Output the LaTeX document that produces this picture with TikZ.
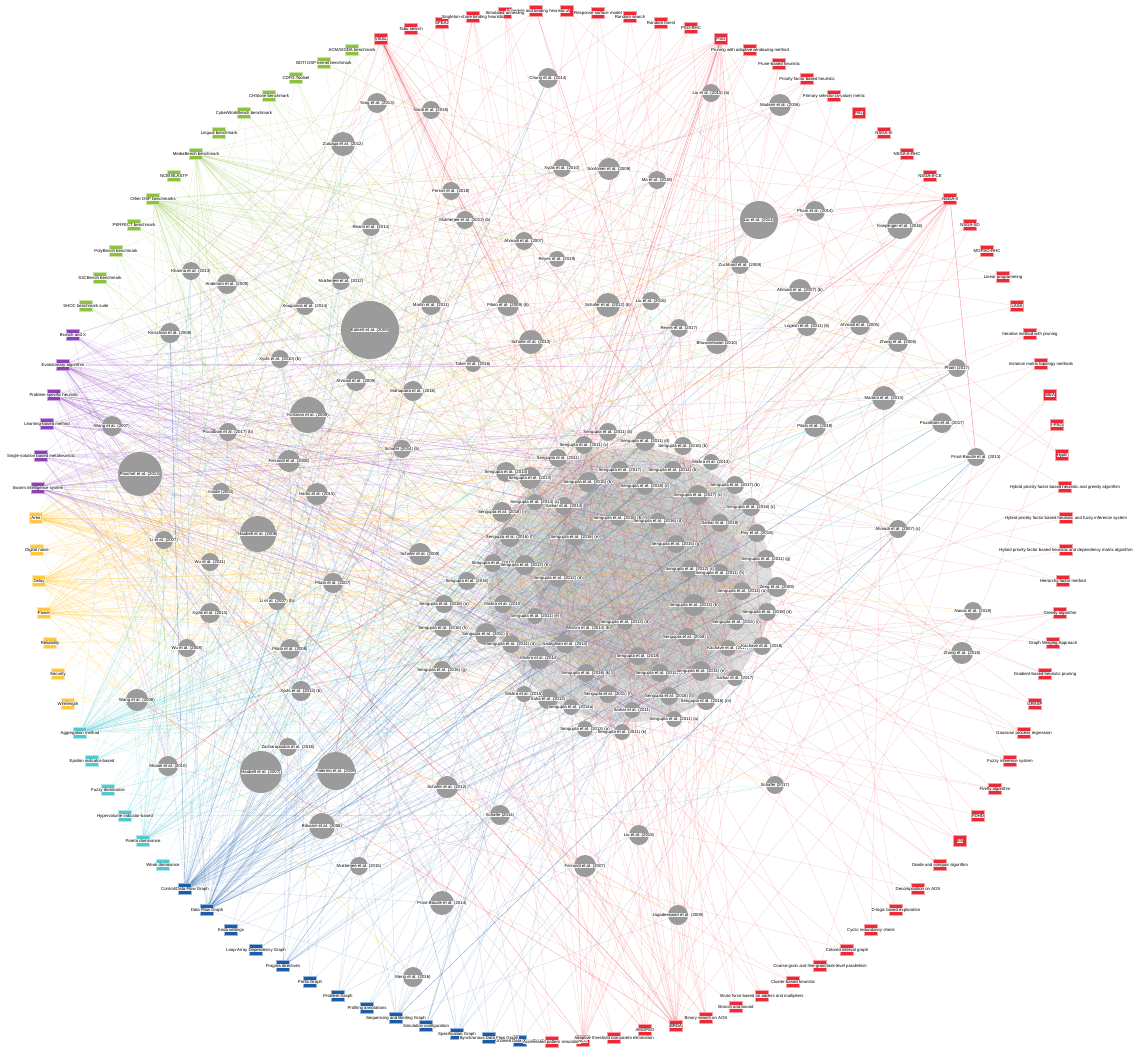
\documentclass[tikz,border=0pt]{standalone}
\usepackage{fontspec}
\usepackage{etoolbox}
\setmainfont{Liberation Sans}
\usetikzlibrary{backgrounds}
\definecolor{cg}{RGB}{141,193,64}
\definecolor{cp}{RGB}{140,64,185}
\definecolor{cy}{RGB}{255,200,62}
\definecolor{cc}{RGB}{82,200,208}
\definecolor{cb}{RGB}{26,92,168}
\definecolor{cr}{RGB}{238,40,52}
\definecolor{cn}{RGB}{155,155,155}
\tikzset{
 obox/.style={draw=#1!45, fill=#1, line width=0.7pt, minimum width=13pt, minimum height=11pt, inner sep=0pt},
 pnode/.style={circle, fill=cn, inner sep=0pt},
 lbl/.style={font=\fontsize{4.3}{5}\selectfont, fill=white, fill opacity=0.9, text opacity=1, inner sep=0.25pt},
 eg/.style={draw=cg, opacity=0.22, line width=0.4pt},
 ep/.style={draw=cp, opacity=0.22, line width=0.4pt},
 ey/.style={draw=cy, opacity=0.25, line width=0.4pt},
 ec/.style={draw=cc, opacity=0.25, line width=0.4pt},
 eb/.style={draw=cb, opacity=0.2, line width=0.4pt},
 er/.style={draw=cr, opacity=0.2, line width=0.4pt},
 em/.style={draw=gray!85, opacity=0.16, line width=0.3pt},
}
\newcommand\alllabels{}
\newcommand\onode[5]{\node[obox=#4] (#1) at (#2,#3) {};\gappto\alllabels{\node[lbl] at (#1) {#5};}}
\newcommand\pnd[5]{\node[pnode, minimum size=#4pt] (#1) at (#2,#3) {};\gappto\alllabels{\node[lbl] at (#1) {#5};}}
\begin{document}
\begin{tikzpicture}[x=1pt,y=-1pt]
\useasboundingbox (0,0) rectangle (1146,1052);
% ---------- outer ring: benchmarks
\onode{g1}{352}{50}{cg}{ACM/SIGDA benchmark}
\onode{g2}{324}{63}{cg}{BDTI DSP kernel benchmark}
\onode{g3}{296}{78}{cg}{CDFG Toolset}
\onode{g4}{269}{96}{cg}{CHStone benchmark}
\onode{g5}{244}{113}{cg}{CyberWorkBench benchmark}
\onode{g6}{219}{133}{cg}{Lingual benchmark}
\onode{g7}{196}{154}{cg}{MediaBench benchmark}
\onode{g8}{174}{176}{cg}{NCBI BLASTP}
\onode{g9}{153}{199}{cg}{Other DSP benchmarks}
\onode{g10}{134}{225}{cg}{PERFECT benchmark}
\onode{g11}{116}{251}{cg}{PolyBench benchmark}
\onode{g12}{100}{278}{cg}{S3CBench benchmark}
\onode{g13}{86}{306}{cg}{SHOC benchmark suite}
% algorithms
\onode{u1}{73}{335}{cp}{Branch and X}
\onode{u2}{63}{365}{cp}{Evolutionary algorithm}
\onode{u3}{54}{395}{cp}{Problem-specific heuristic}
\onode{u4}{47}{424}{cp}{Learning-based method}
\onode{u5}{41}{456}{cp}{Single-solution based metaheuristic}
\onode{u6}{38}{488}{cp}{Swarm intelligence system}
% metrics
\onode{y1}{36}{518}{cy}{Area}
\onode{y2}{37}{550}{cy}{Digital noise}
\onode{y3}{39}{581}{cy}{Delay}
\onode{y4}{44}{613}{cy}{Power}
\onode{y5}{50}{643}{cy}{Reliability}
\onode{y6}{58}{674}{cy}{Security}
\onode{y7}{68}{704}{cy}{Wirelength}
% multi-objective
\onode{c1}{80}{733}{cc}{Aggregation method}
\onode{c2}{92}{761}{cc}{Epsilon indicator-based}
\onode{c3}{108}{790}{cc}{Fuzzy dominance}
\onode{c4}{125}{816}{cc}{Hypervolume indicator-based}
\onode{c5}{143}{841}{cc}{Pareto dominance}
\onode{c6}{163}{865}{cc}{Weak dominance}
% representations
\onode{b1}{185}{889}{cb}{Control/Data Flow Graph}
\onode{b2}{207}{910}{cb}{Data Flow Graph}
\onode{b3}{231}{930}{cb}{Knob settings}
\onode{b4}{256}{950}{cb}{Loop-Array Dependency Graph}
\onode{b5}{283}{966}{cb}{Pragma directives}
\onode{b6}{310}{982}{cb}{Prefix Graph}
\onode{b7}{338}{996}{cb}{Problem Graph}
\onode{b8}{367}{1008}{cb}{Profiling annotations}
\onode{b9}{396}{1018}{cb}{Sequencing and Binding Graph}
\onode{b10}{426}{1026}{cb}{Simulation configuration}
\onode{b11}{457}{1034}{cb}{Specification Graph}
\onode{b12}{489}{1038}{cb}{Synchronous Data Flow Graph}
\onode{b13}{520}{1041}{cb}{Untimed Data Flow Graph}
% techniques
\onode{r1}{552}{1042}{cr}{Accelerated pattern simulation}
\onode{r2}{583}{1041}{cr}{ACO}
\onode{r3}{614}{1038}{cr}{Adaptive threshold non-pareto elimination}
\onode{r4}{645}{1030}{cr}{AMOPSO}
\onode{r5}{676}{1026}{cr}{BRDA}
\onode{r6}{706}{1018}{cr}{Binary search on AOS}
\onode{r7}{736}{1007}{cr}{Branch and bound}
\onode{r8}{762}{996}{cr}{Brute force based on adders and multipliers}
\onode{r9}{793}{982}{cr}{Cluster-based heuristic}
\onode{r10}{820}{966}{cr}{Coarse-grain and fine-grain/task-level parallelism}
\onode{r11}{847}{950}{cr}{Colored interval graph}
\onode{r12}{871}{930}{cr}{Cyclic redundancy check}
\onode{r13}{896}{910}{cr}{D-logic based exploration}
\onode{r14}{918}{889}{cr}{Decomposition on AOS}
\onode{r15}{940}{865}{cr}{Divide and conquer algorithm}
\onode{r16}{960}{841}{cr}{ES}
\onode{r17}{978}{816}{cr}{FDHD}
\onode{r18}{995}{789}{cr}{Firefly algorithm}
\onode{r19}{1010}{761}{cr}{Fuzzy inference system}
\onode{r20}{1024}{733}{cr}{Gaussian process regression}
\onode{r21}{1035}{704}{cr}{GRASP}
\onode{r22}{1045}{674}{cr}{Gradient-based heuristic pruning}
\onode{r23}{1053}{643}{cr}{Graph Merging Approach}
\onode{r24}{1060}{613}{cr}{Greedy algorithm}
\onode{r25}{1063}{581}{cr}{Hierarchy factor method}
\onode{r26}{1066}{550}{cr}{Hybrid priority factor based heuristic and dependency matrix algorithm}
\onode{r27}{1066}{518}{cr}{Hybrid priority factor based heuristic and fuzzy inference system}
\onode{r28}{1065}{487}{cr}{Hybrid priority factor based heuristic and greedy algorithm}
\onode{r29}{1062}{455}{cr}{HypE}
\onode{r30}{1057}{425}{cr}{I-PSO}
\onode{r31}{1050}{395}{cr}{IBEA}
\onode{r32}{1041}{364}{cr}{Instance matrix topology methods}
\onode{r33}{1030}{334}{cr}{Iterative method with pruning}
\onode{r34}{1017}{306}{cr}{LASA}
\onode{r35}{1003}{277}{cr}{Linear programming}
\onode{r36}{987}{251}{cr}{MOPSO-RHC}
\onode{r37}{970}{225}{cr}{NSGA-SD}
\onode{r38}{950}{199}{cr}{NSGA-II}
\onode{r39}{930}{176}{cr}{NSGA-II-CE}
\onode{r40}{907}{154}{cr}{NSGA-II-RHC}
\onode{r41}{884}{133}{cr}{NSGA-III}
\onode{r42}{859}{113}{cr}{PAL}
\onode{r43}{834}{96}{cr}{Primary selector (a-value) metric}
\onode{r44}{807}{79}{cr}{Priority factor based heuristic}
\onode{r45}{779}{64}{cr}{Prune-based heuristic}
\onode{r46}{750}{50}{cr}{Pruning with adaptive windowing method}
\onode{r47}{721}{39}{cr}{PSO}
\onode{r48}{691}{28}{cr}{PSO-RHC}
\onode{r49}{661}{23}{cr}{Random forest}
\onode{r50}{630}{17}{cr}{Random search}
\onode{r51}{598}{13}{cr}{Response surface model}
\onode{r52}{567}{11}{cr}{SA}
\onode{r53}{536}{11}{cr}{Schedule and binding heuristic}
\onode{r54}{505}{13}{cr}{Simulated annealing}
\onode{r55}{473}{17}{cr}{Singleton-share binding heuristic}
\onode{r56}{442}{23}{cr}{SPEA2}
\onode{r57}{411}{29}{cr}{Tabu search}
\onode{r58}{381}{39}{cr}{VISSL}
% ---------- papers
\pnd{p1}{377}{103}{20}{Yang et al. (2013)}
\pnd{p2}{431}{110}{18}{Nardi et al. (2018)}
\pnd{p3}{343}{144}{24}{Zuluaga et al. (2012)}
\pnd{p4}{548}{78}{20}{Chung et al. (2014)}
\pnd{p5}{711}{93}{18}{Liu et al. (2015) (b)}
\pnd{p6}{780}{105}{22}{Madsen et al. (2006)}
\pnd{p7}{562}{168}{18}{Xydis et al. (2010)}
\pnd{p8}{609}{169}{22}{Sonfomer et al. (2009)}
\pnd{p9}{657}{180}{18}{Ma et al. (2018)}
\pnd{p10}{451}{191}{18}{Ferrari et al. (2018)}
\pnd{p11}{465}{220}{18}{Mukherjee et al. (2012) (b)}
\pnd{p12}{759}{220}{38}{Liu et al. (2014)}
\pnd{p13}{815}{211}{20}{Pham et al. (2014)}
\pnd{p14}{900}{226}{26}{Koeplinger et al. (2016)}
\pnd{p15}{524}{241}{18}{Ahmadi et al. (2007)}
\pnd{p16}{557}{259}{16}{Reyes et al. (2019)}
\pnd{p17}{371}{227}{18}{Reami et al. (2014)}
\pnd{p18}{740}{265}{18}{Zuchhard et al. (2009)}
\pnd{p19}{191}{271}{18}{Khanna et al. (2013)}
\pnd{p20}{227}{284}{20}{Anderson et al. (2009)}
\pnd{p21}{341}{281}{18}{Mukherjee et al. (2012)}
\pnd{p22}{305}{306}{18}{Kougianos et al. (2014)}
\pnd{p23}{370}{330}{58}{Kalnert et al. (2009)}
\pnd{p24}{170}{333}{20}{Kirischian et al. (2008)}
\pnd{p25}{280}{359}{18}{Xydis et al. (2010) (b)}
\pnd{p26}{356}{381}{20}{Ahmadi et al. (2009)}
\pnd{p27}{308}{415}{36}{Kristman et al. (2009)}
\pnd{p28}{112}{426}{20}{Wang et al. (2007)}
\pnd{p29}{228}{432}{18}{Piccolboni et al. (2017) (b)}
\pnd{p30}{289}{461}{22}{Ferrandi et al. (2008)}
\pnd{p31}{140}{474}{44}{Pouchet et al. (2013)}
\pnd{p32}{221}{492}{18}{Inside (2004)}
\pnd{p33}{317}{494}{22}{Hartis et al. (2015)}
\pnd{p34}{258}{534}{36}{Haubelt et al. (2008)}
\pnd{p35}{431}{305}{20}{Martin et al. (2011)}
\pnd{p36}{508}{305}{22}{Pilato et al. (2009) (b)}
\pnd{p37}{608}{305}{24}{Schafer et al. (2012) (b)}
\pnd{p38}{651}{301}{18}{Liu et al. (2016)}
\pnd{p39}{679}{328}{18}{Reyes et al. (2017)}
\pnd{p40}{717}{343}{22}{Bhuvaneswari (2010)}
\pnd{p41}{531}{342}{24}{Schafer et al. (2013)}
\pnd{p42}{473}{364}{16}{Taher et al. (2016)}
\pnd{p43}{413}{391}{20}{Mahapatra et al. (2016)}
\pnd{p44}{402}{449}{18}{Schafer (2014) (b)}
\pnd{p45}{800}{290}{22}{Ahmadi et al. (2007) (b)}
\pnd{p46}{807}{326}{20}{Logesh et al. (2011) (b)}
\pnd{p47}{860}{325}{20}{Ahmadi et al. (2005)}
\pnd{p48}{898}{342}{20}{Zhang et al. (2006)}
\pnd{p49}{957}{368}{18}{Pham (2017)}
\pnd{p50}{884}{398}{24}{Martani et al. (2013)}
\pnd{p51}{815}{426}{22}{Pilato et al. (2018)}
\pnd{p52}{942}{423}{20}{Piccolboni et al. (2017)}
\pnd{p53}{976}{457}{18}{Prost-Boucle et al. (2013)}
\pnd{p54}{898}{529}{18}{Ahmadi et al. (2007) (c)}
\pnd{p55}{164}{540}{18}{Li et al. (2007)}
\pnd{p56}{210}{562}{18}{Wu et al. (2011)}
\pnd{p57}{333}{583}{20}{Pilato et al. (2007)}
\pnd{p58}{277}{601}{18}{Li et al. (2007) (b)}
\pnd{p59}{210}{613}{20}{Xydis et al. (2013)}
\pnd{p60}{187}{648}{18}{Wu et al. (2008)}
\pnd{p61}{290}{649}{20}{Pilato et al. (2008)}
\pnd{p62}{301}{691}{20}{Xydis et al. (2013) (b)}
\pnd{p63}{137}{700}{22}{Wang et al. (2008)}
\pnd{p64}{288}{747}{18}{Zacharopoulos et al. (2016)}
\pnd{p65}{168}{766}{20}{Shoaei et al. (2010)}
\pnd{p66}{261}{772}{42}{Haubelt et al. (2007)}
\pnd{p67}{336}{771}{38}{Palermo et al. (2009)}
\pnd{p68}{420}{554}{22}{Schafer et al. (2009)}
\pnd{p69}{973}{611}{18}{Navas et al. (2018)}
\pnd{p70}{962}{653}{22}{Zhang et al. (2018)}
\pnd{p71}{775}{785}{18}{Schafer (2017)}
\pnd{p72}{322}{826}{26}{Bilavarn et al. (2006)}
\pnd{p73}{359}{866}{18}{Mukherjee et al. (2015)}
\pnd{p74}{447}{787}{22}{Schafer et al. (2012)}
\pnd{p75}{500}{815}{20}{Schafer (2014)}
\pnd{p76}{639}{835}{20}{Liu et al. (2018)}
\pnd{p77}{585}{866}{22}{Ferrandi et al. (2007)}
\pnd{p78}{442}{903}{24}{Prost-Boucle et al. (2014)}
\pnd{p79}{678}{915}{20}{Jagadeeswari et al. (2009)}
\pnd{p80}{413}{977}{20}{Meng et al. (2016)}
% cluster
\pnd{p81}{608}{432}{18}{Sengupta et al. (2011) (b)}
\pnd{p82}{584}{445}{18}{Sengupta et al. (2011) (c)}
\pnd{p83}{645}{441}{20}{Sengupta et al. (2011) (d)}
\pnd{p84}{683}{446}{18}{Sengupta et al. (2018) (b)}
\pnd{p85}{711}{462}{16}{Mishra et al. (2013)}
\pnd{p86}{558}{458}{18}{Sengupta et al. (2011)}
\pnd{p87}{506}{472}{20}{Sengupta et al. (2014)}
\pnd{p88}{530}{478}{22}{Sengupta et al. (2013)}
\pnd{p89}{588}{482}{20}{Sengupta et al. (2015) (b)}
\pnd{p90}{620}{470}{18}{Sengupta et al. (2017)}
\pnd{p91}{645}{486}{18}{Sengupta et al. (2018) (c)}
\pnd{p92}{673}{470}{18}{Sengupta et al. (2014) (b)}
\pnd{p93}{735}{485}{18}{Sengupta et al. (2017) (b)}
\pnd{p94}{698}{495}{20}{Sengupta et al. (2017) (c)}
\pnd{p95}{751}{507}{18}{Sengupta et al. (2016) (c)}
\pnd{p96}{535}{502}{16}{Sengupta et al. (2014) (c)}
\pnd{p97}{564}{506}{18}{Sarkar et al. (2014)}
\pnd{p98}{502}{512}{20}{Sengupta et al. (2016) (i)}
\pnd{p99}{618}{518}{16}{Sengupta et al. (2016) (b)}
\pnd{p100}{658}{521}{16}{Sengupta et al. (2016) (d)}
\pnd{p101}{720}{523}{18}{Sarkar et al. (2018)}
\pnd{p102}{510}{537}{20}{Sengupta et al. (2016) (f)}
\pnd{p103}{575}{537}{18}{Sengupta et al. (2016) (e)}
\pnd{p104}{676}{544}{18}{Sengupta et al. (2015) (g)}
\pnd{p105}{493}{563}{18}{Sengupta et al. (2012)}
\pnd{p106}{525}{565}{20}{Sengupta et al. (2012) (b)}
\pnd{p107}{558}{578}{18}{Sengupta et al. (2012) (d)}
\pnd{p108}{467}{581}{18}{Sengupta et al. (2016)}
\pnd{p109}{690}{569}{18}{Sengupta et al. (2012) (c)}
\pnd{p110}{720}{573}{18}{Sengupta et al. (2011) (h)}
\pnd{p111}{742}{591}{18}{Sengupta et al. (2014) (a)}
\pnd{p112}{444}{604}{18}{Sengupta et al. (2016) (a)}
\pnd{p113}{503}{604}{18}{Mishra et al. (2010)}
\pnd{p114}{535}{616}{16}{Sengupta et al. (2011) (e)}
\pnd{p115}{694}{605}{22}{Sengupta et al. (2013) (b)}
\pnd{p116}{736}{622}{16}{Sengupta et al. (2011) (i)}
\pnd{p117}{625}{622}{16}{Sengupta et al. (2013) (d)}
\pnd{p118}{589}{628}{16}{Mishra et al. (2014) (b)}
\pnd{p119}{443}{628}{18}{Sengupta et al. (2016) (h)}
\pnd{p120}{486}{634}{22}{Sengupta et al. (2011) (j)}
\pnd{p121}{511}{644}{18}{Sengupta et al. (2014) (d)}
\pnd{p122}{565}{644}{18}{Sadeghian et al. (2014)}
\pnd{p123}{687}{637}{18}{Sengupta et al. (2018) (j)}
\pnd{p124}{728}{648}{16}{Kachave et al. (2017)}
\pnd{p125}{539}{658}{22}{Mishra et al. (2014)}
\pnd{p126}{638}{656}{18}{Sengupta et al. (2018)}
\pnd{p127}{586}{673}{18}{Sengupta et al. (2016) (k)}
\pnd{p128}{660}{673}{18}{Sengupta et al. (2012) (e)}
\pnd{p129}{701}{671}{20}{Sengupta et al. (2014) (e)}
\pnd{p130}{442}{670}{18}{Sengupta et al. (2016) (g)}
\pnd{p131}{735}{678}{16}{Sarkar et al. (2017)}
\pnd{p132}{524}{694}{16}{Mishra et al. (2015)}
\pnd{p133}{548}{699}{20}{Saha et al. (2013)}
\pnd{p134}{571}{707}{16}{Sengupta et al. (2014a)}
\pnd{p135}{608}{694}{18}{Sengupta et al. (2011) (f)}
\pnd{p136}{669}{696}{18}{Sengupta et al. (2016) (l)}
\pnd{p137}{706}{701}{18}{Sengupta et al. (2016) (m)}
\pnd{p138}{632}{710}{16}{Sarkar et al. (2011)}
\pnd{p139}{674}{719}{16}{Sengupta et al. (2011) (a)}
\pnd{p140}{585}{729}{16}{Sengupta et al. (2013) (a)}
\pnd{p141}{622}{732}{16}{Sengupta et al. (2011) (k)}
\pnd{p142}{757}{533}{18}{Roy et al. (2018)}
\pnd{p143}{766}{559}{18}{Sengupta et al. (2011) (g)}
\pnd{p144}{777}{587}{20}{Zeng et al. (2009)}
\pnd{p145}{767}{612}{18}{Sengupta et al. (2018) (d)}
\pnd{p146}{762}{646}{18}{Kachave et al. (2018)}
% ---------- labels on top
\alllabels
% ---------- connectors
\begin{pgfonlayer}{background}
\fill[gray!50, opacity=0.45] (630,585) ellipse [x radius=142, y radius=137];
\fill[gray!60, opacity=0.35] (640,580) ellipse [x radius=105, y radius=100];
\pgfmathsetseed{11}
\foreach \k in {1,...,1100}{\pgfmathrandominteger{\ia}{81}{146}\pgfmathrandominteger{\ib}{81}{146}\ifnum\ia=\ib\else\draw[em] (p\ia) -- (p\ib);\fi}
\foreach \o/\d in {g1/6,g2/3,g3/4,g4/7,g5/5,g6/3,g7/40,g8/2,g9/55,g10/4,g11/8,g12/5,g13/4}{\foreach \k in {1,...,\d}{\pgfmathrandominteger{\tg}{1}{146}\draw[eg] (\o) -- (p\tg);}}
\foreach \o/\d in {u1/12,u2/45,u3/40,u4/18,u5/20,u6/40}{\foreach \k in {1,...,\d}{\pgfmathrandominteger{\tg}{1}{146}\draw[ep] (\o) -- (p\tg);}}
\foreach \o/\d in {y1/60,y2/15,y3/60,y4/45,y5/10,y6/4,y7/5}{\foreach \k in {1,...,\d}{\pgfmathrandominteger{\tg}{1}{146}\draw[ey] (\o) -- (p\tg);}}
\foreach \o/\d in {c1/50,c2/8,c3/6,c4/15,c5/30,c6/4}{\foreach \k in {1,...,\d}{\pgfmathrandominteger{\tg}{1}{146}\draw[ec] (\o) -- (p\tg);}}
\foreach \o/\d in {b1/60,b2/50,b3/4,b4/3,b5/15,b6/3,b7/5,b8/3,b9/12,b10/6,b11/8,b12/4,b13/3}{\foreach \k in {1,...,\d}{\pgfmathrandominteger{\tg}{1}{146}\draw[eb] (\o) -- (p\tg);}}
\foreach \o/\d in {r1/3,r2/15,r3/4,r4/8,r5/28,r6/8,r7/4,r8/3,r9/3,r10/3,r11/3,r12/2,r13/3,r14/2,r15/3,r16/4,r17/2,r18/3,r19/3,r20/3,r21/2,r22/2,r23/2,r24/4,r25/2,r26/2,r27/2,r28/2,r29/2,r30/2,r31/2,r32/2,r33/2,r34/2,r35/2,r36/2,r37/2,r38/25,r39/2,r40/2,r41/2,r42/2,r43/2,r44/6,r45/3,r46/4,r47/30,r48/4,r49/4,r50/3,r51/4,r52/3,r53/5,r54/4,r55/6,r56/3,r57/4,r58/25}{\foreach \k in {1,...,\d}{\pgfmathrandominteger{\tg}{1}{146}\draw[er] (\o) -- (p\tg);}}
\end{pgfonlayer}
\end{tikzpicture}
\end{document}
